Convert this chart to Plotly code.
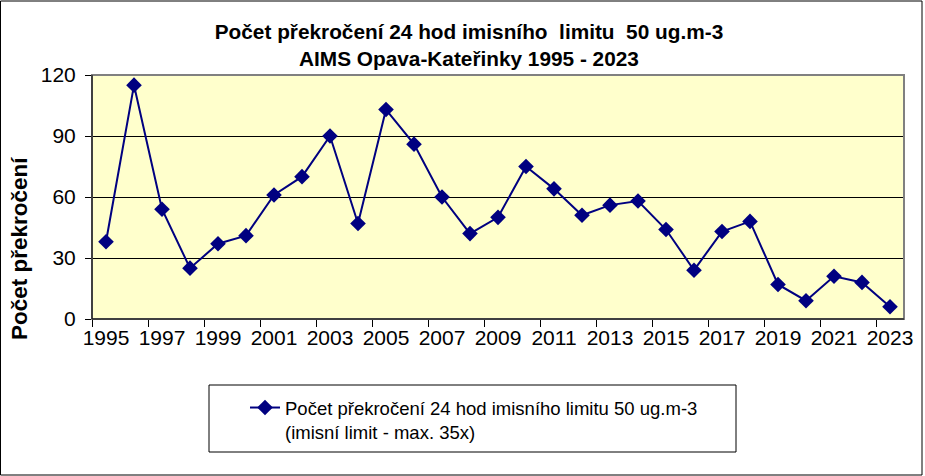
import plotly.graph_objects as go

years = [str(y) for y in range(1995, 2024)]
values = [38, 115, 54, 25, 37, 41, 61, 70, 90, 47, 103, 86, 60, 42, 50, 75, 64, 51,
          56, 58, 44, 24, 43, 48, 17, 9, 21, 18, 6]
y_ticks = [0, 30, 60, 90, 120]

title_text = ("<b>Počet překročení 24 hod imisního\u00a0 limitu\u00a0 50 ug.m-3</b><br>"
              "<b>AIMS Opava-Kateřinky 1995 - 2023</b>")
series_name = "Počet překročení 24 hod imisního limitu 50 ug.m-3<br>(imisní limit - max. 35x)"
y_title = "<b>Počet překročení</b>"

FONT = "Arial, 'Liberation Sans', sans-serif"
W, H = 925, 476
L, R, T, B = 92, 904, 75, 319  # plot area in pixels


def px_x(px):
    return (px - L) / (R - L)


def px_y(py):
    return (B - py) / (B - T)


fig = go.Figure()
fig.add_trace(go.Scatter(
    x=years, y=values, name=series_name, mode="lines+markers",
    line=dict(color="#000080", width=2),
    marker=dict(symbol="diamond", size=12, color="#000080"),
))

fig.update_layout(
    width=W, height=H,
    margin=dict(l=L, r=W - R, t=T, b=H - B, pad=0),
    paper_bgcolor="white",
    plot_bgcolor="#FFFFCC",
    font=dict(family=FONT, color="black"),
    title=dict(text=title_text, x=0.507, xanchor="center", y=1 - 39 / H, yanchor="middle",
               xref="container", yref="container",
               font=dict(size=20.8, family=FONT, color="black")),
    showlegend=True,
    legend=dict(x=px_x(245), y=px_y(389), xanchor="left", yanchor="top",
                bgcolor="rgba(0,0,0,0)", borderwidth=0,
                font=dict(size=18.5, family=FONT, color="black"),
                valign="top", itemwidth=30),
)

fig.update_xaxes(
    type="category", range=[-0.5, len(years) - 0.5],
    tickmode="linear", dtick=2, tick0=0, tickson="boundaries",
    ticks="outside", ticklen=7, tickcolor="black", tickwidth=1, tickangle=0,
    showgrid=False, showline=True, linecolor="black", linewidth=1,
    tickfont=dict(size=21, family=FONT, color="black"),
    fixedrange=True,
)
fig.update_yaxes(
    range=[0, 120], tickvals=y_ticks,
    ticks="outside", ticklen=6, tickcolor="black", tickwidth=1,
    showgrid=True, gridcolor="black", gridwidth=1, zeroline=False,
    showline=True, linecolor="black", linewidth=1,
    tickfont=dict(size=21, family=FONT, color="black"),
    ticklabelstandoff=5,
    automargin=False, fixedrange=True,
)

# y-axis title (placed like the original, below the plot centre)
fig.add_annotation(text=y_title, xref="paper", yref="paper",
                   x=px_x(19), y=px_y(249), xanchor="center", yanchor="middle",
                   textangle=-90, showarrow=False,
                   font=dict(size=22.5, family=FONT, color="black"))

# grey frame on top/right of plot area
fig.add_shape(type="rect", xref="paper", yref="paper", x0=0, x1=1, y0=0, y1=1,
              line=dict(color="#808080", width=2), layer="above")
# redraw black left/bottom axis lines over frame
fig.add_shape(type="line", xref="paper", yref="paper", x0=0, x1=0, y0=0, y1=1,
              line=dict(color="black", width=1), layer="above")
fig.add_shape(type="line", xref="paper", yref="paper", x0=0, x1=1, y0=0, y1=0,
              line=dict(color="black", width=1), layer="above")
# legend frame
fig.add_shape(type="rect", xref="paper", yref="paper",
              x0=px_x(209), x1=px_x(736), y0=px_y(452), y1=px_y(385),
              line=dict(color="black", width=1))
# outer chart frame
fig.add_shape(type="rect", xref="paper", yref="paper",
              x0=px_x(0.5), x1=px_x(922), y0=px_y(475), y1=px_y(1),
              line=dict(color="black", width=1))

fig.write_html("out.html", config={"displayModeBar": False},
               post_script="document.body.style.margin='0px';document.body.style.overflow='hidden';")
